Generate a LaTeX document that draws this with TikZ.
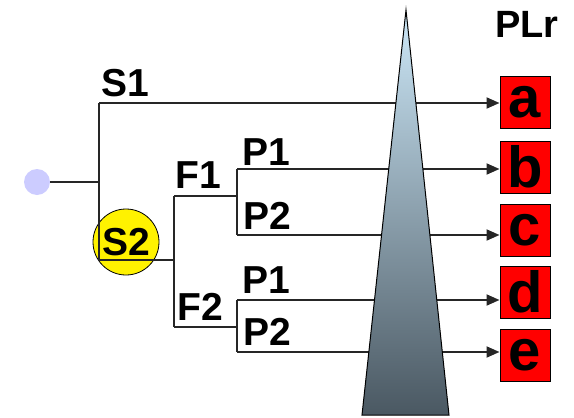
\documentclass[tikz,border=0pt]{standalone}
\usepackage{fontspec}
\setmainfont{Liberation Sans}
\usetikzlibrary{arrows.meta}
\definecolor{dotc}{HTML}{CCCCFF}
\definecolor{tritop}{HTML}{CDE8F8}
\definecolor{tribot}{HTML}{4A5862}
\tikzset{
  lbl/.style={font=\fontsize{39}{42}\selectfont\bfseries, inner sep=0pt},
  plbox/.style={draw=black, line width=1pt, fill=red, minimum width=50pt, minimum height=52pt, inner sep=0pt, font=\fontsize{58}{60}\selectfont\bfseries},
  wire/.style={line width=2pt, draw=black!85},
  arr/.style={wire, -{Triangle[length=13pt,width=11pt]}},
}
\begin{document}
\begin{tikzpicture}[x=1pt,y=-1pt]
\useasboundingbox (0,0) rectangle (574,418);
% nodes
\node[circle, fill=dotc, minimum size=26pt, inner sep=0pt] (dot) at (37,182) {};
\node[circle, fill=yellow, draw=black, line width=0.8pt, minimum size=66pt, inner sep=0pt] (s2c) at (126,242) {};
\node[plbox] (a) at (525,102) {a};
\node[plbox] (b) at (525,167) {b};
\node[plbox] (c) at (525,230) {c};
\node[plbox] (d) at (525,292) {d};
\node[plbox] (e) at (525,355) {e};
\node[font=\fontsize{38}{40}\selectfont\bfseries, inner sep=0pt] (plr) at (527,24) {PLr};
% junctions
\coordinate (j0) at (99,182);
\coordinate (s1) at (99,103);
\coordinate (s2) at (99,260);
\coordinate (f) at (174,260);
\coordinate (f1) at (174,196);
\coordinate (f2) at (174,327);
\coordinate (f1j) at (237,196);
\coordinate (f2j) at (237,327);
\coordinate (p11) at (237,169);
\coordinate (p12) at (237,235);
\coordinate (p21) at (237,300);
\coordinate (p22) at (237,352);
% wires
\draw[wire] (dot.east) -- (j0);
\draw[wire] (s1) -- (s2) -- (f);
\draw[wire] (f1) -- (f2);
\draw[wire] (f1) -- (f1j);
\draw[wire] (f2) -- (f2j);
\draw[wire] (p11) -- (p12);
\draw[wire] (p21) -- (p22);
\draw[arr] (s1) -- (s1 -| a.west);
\draw[arr] (p11) -- (p11 -| b.west);
\draw[arr] (p12) -- (p12 -| c.west);
\draw[arr] (p21) -- (p21 -| d.west);
\draw[arr] (p22) -- (p22 -| e.west);
% triangle
\shade[top color=tritop, bottom color=tribot, draw=black, line width=1pt]
  (406,10) -- (449,415) -- (362,415) -- cycle;
% labels
\node[lbl] (ls1) at (125,83) {S1};
\node[lbl] (ls2) at (126,242) {S2};
\node[lbl] (lf1) at (198,175) {F1};
\node[lbl] (lf2) at (200,307) {F2};
\node[lbl] (lp11) at (266,152) {P1};
\node[lbl] (lp12) at (267,216) {P2};
\node[lbl] (lp21) at (266,280) {P1};
\node[lbl] (lp22) at (267,332) {P2};
\end{tikzpicture}
\end{document}
